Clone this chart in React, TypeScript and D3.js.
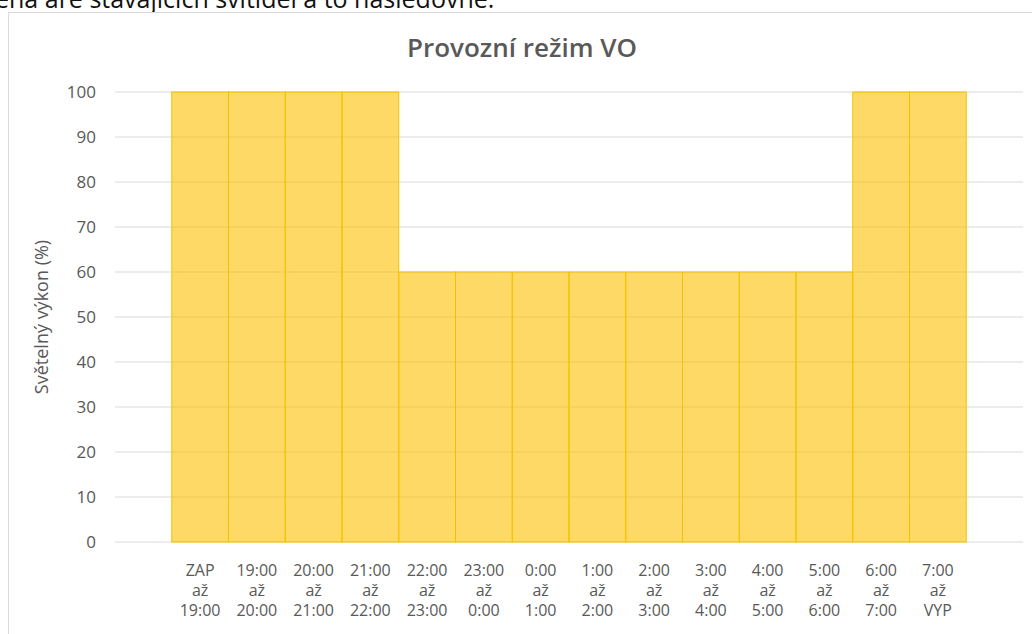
import React from 'react';
import * as d3 from 'd3';

const fromLabels = ['ZAP', '19:00', '20:00', '21:00', '22:00', '23:00', '0:00', '1:00', '2:00', '3:00', '4:00', '5:00', '6:00', '7:00'];
const toLabels = ['19:00', '20:00', '21:00', '22:00', '23:00', '0:00', '1:00', '2:00', '3:00', '4:00', '5:00', '6:00', '7:00', 'VYP'];
const power = [100, 100, 100, 100, 60, 60, 60, 60, 60, 60, 60, 60, 100, 100];
const yTicks = [0, 10, 20, 30, 40, 50, 60, 70, 80, 90, 100];

const W = 1032;
const H = 634;
const font = "'Open Sans', sans-serif";

const App = () => {
  const x = d3.scaleBand<number>()
    .domain(power.map((d, i) => i))
    .range([115, 1023])
    .paddingInner(0)
    .paddingOuter(1);

  const y = d3.scaleLinear().domain([0, 100]).range([542, 92]);

  return (
    <svg width={W} height={H} style={{ position: 'absolute', left: 0, top: 0, background: '#fff' }}>
      {/* page text cut off above the chart */}
      <text x={-5} y={8} fontFamily={font} fontSize={25} fill="#111">
        ená are stávajících svítidel a to následovně:
      </text>

      <rect x={8.5} y={12.5} width={1040} height={640} fill="#fff" stroke="#d9d9d9" />

      <text x={522} y={57} textAnchor="middle" fontFamily={font} fontSize={26} fontWeight={600} fill="#595959">
        Provozní režim VO
      </text>

      {/* gridlines */}
      {yTicks.map(t => (
        <line key={t} x1={115} x2={1023} y1={y(t)} y2={y(t)} stroke="#d9d9d9" strokeWidth={1} />
      ))}

      {/* y tick labels */}
      {yTicks.map(t => (
        <text key={'l' + t} x={96} y={y(t) + 6} textAnchor="end" fontFamily={font} fontSize={17} fill="#595959">
          {t}
        </text>
      ))}

      <text
        transform={`translate(48,${(y(0) + y(100)) / 2}) rotate(-90)`}
        textAnchor="middle"
        fontFamily={font}
        fontSize={18}
        fill="#595959"
      >
        Světelný výkon (%)
      </text>

      {/* bars */}
      {power.map((v, i) => (
        <rect
          key={i}
          x={x(i)}
          y={y(v)}
          width={x.bandwidth()}
          height={y(0) - y(v)}
          fill="#ffc000"
          fillOpacity={0.6}
          stroke="#f2c200"
          strokeWidth={1}
        />
      ))}

      {/* category labels */}
      {power.map((v, i) => {
        const cx = (x(i) ?? 0) + x.bandwidth() / 2;
        return (
          <text key={'c' + i} x={cx} textAnchor="middle" fontFamily={font} fontSize={16} fill="#595959">
            <tspan x={cx} y={576}>{fromLabels[i]}</tspan>
            <tspan x={cx} y={596}>až</tspan>
            <tspan x={cx} y={616}>{toLabels[i]}</tspan>
          </text>
        );
      })}
    </svg>
  );
};

export default App;
